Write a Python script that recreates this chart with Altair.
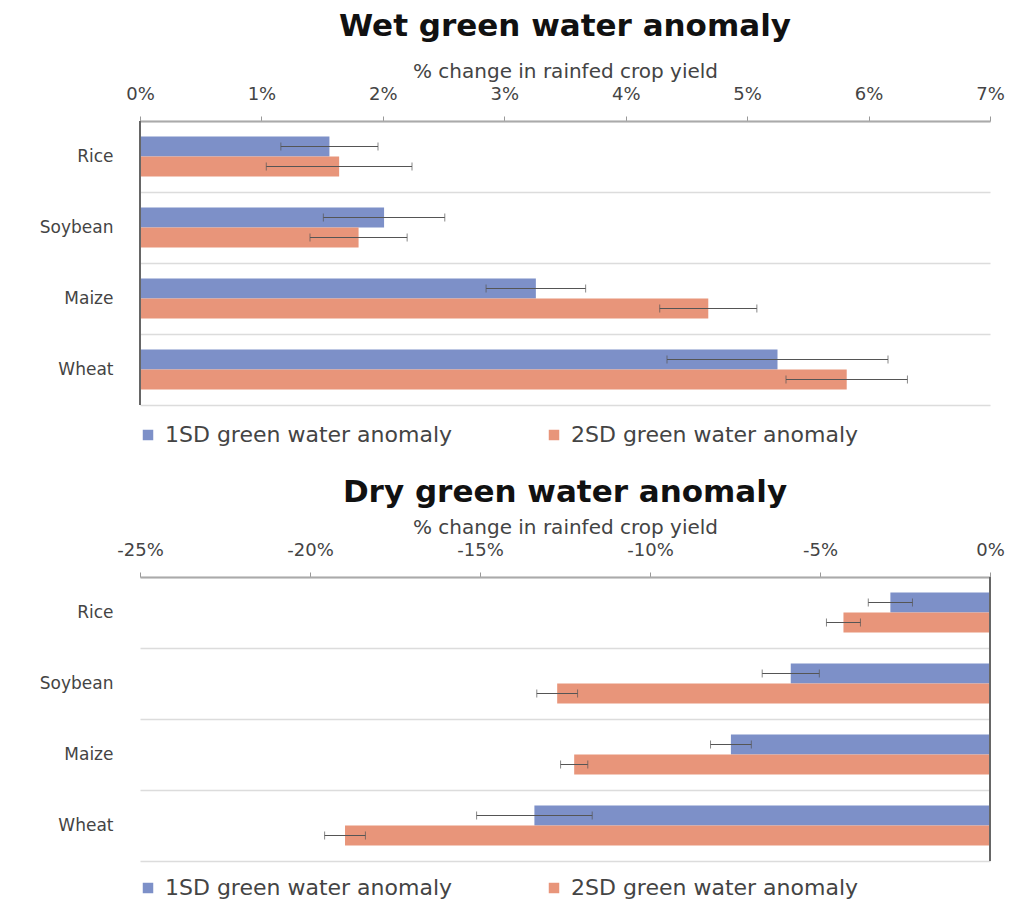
import altair as alt
import pandas as pd

categories = ["Rice", "Soybean", "Maize", "Wheat"]
series = ["1SD green water anomaly", "2SD green water anomaly"]
colors = ["#7d90c8", "#e8957a"]

wet_1sd = [1.56, 2.01, 3.26, 5.25]
wet_1sd_err = [0.40, 0.50, 0.41, 0.91]
wet_2sd = [1.64, 1.80, 4.68, 5.82]
wet_2sd_err = [0.60, 0.40, 0.40, 0.50]

dry_1sd = [-2.93, -5.86, -7.62, -13.40]
dry_1sd_err = [0.65, 0.84, 0.60, 1.70]
dry_2sd = [-4.31, -12.73, -12.23, -18.97]
dry_2sd_err = [0.50, 0.60, 0.40, 0.60]

wet_ticks = [0, 1, 2, 3, 4, 5, 6, 7]
dry_ticks = [-25, -20, -15, -10, -5, 0]

FONT = "DejaVu Sans"
AXIS_TITLE = "% change in rainfed crop yield"


def make_df(v1, e1, v2, e2):
    rows = []
    for c, a, ea, b, eb in zip(categories, v1, e1, v2, e2):
        rows.append({"category": c, "series": series[0], "value": a, "lo": a - ea, "hi": a + ea})
        rows.append({"category": c, "series": series[1], "value": b, "lo": b - eb, "hi": b + eb})
    return pd.DataFrame(rows)


def panel(title, df, domain, ticks, title_offset, legend_y):
    xaxis = alt.Axis(
        orient="top", values=ticks, labelExpr="datum.value + '%'",
        title=AXIS_TITLE, titleFontSize=20, titleFontWeight="normal", titleColor="#444",
        titlePadding=4, labelFontSize=18, labelColor="#444", labelPadding=13,
        tickSize=5, tickColor="#999", domainColor="#aaa", domainWidth=2,
        grid=False, labelFlush=False,
    )
    xscale = alt.Scale(domain=domain, nice=False, zero=False)

    def X(field):
        return alt.X(field, type="quantitative", scale=xscale, axis=xaxis)

    y = alt.Y(
        "category:N", sort=categories,
        scale=alt.Scale(paddingInner=0, paddingOuter=0),
        axis=alt.Axis(title=None, domain=False, ticks=False, labelPadding=27,
                      labelFontSize=17, labelColor="#444", grid=True, tickBand="extent",
                      gridColor="#dcdcdc", gridWidth=1.5, minExtent=132),
    )
    yoff = alt.YOffset("series:N", sort=series,
                       scale=alt.Scale(paddingInner=0, paddingOuter=0.775))

    base = alt.Chart(df)
    bars = base.mark_bar().encode(
        x=X("value"), y=y, yOffset=yoff,
        color=alt.Color(
            "series:N", sort=series,
            scale=alt.Scale(domain=series, range=colors),
            legend=alt.Legend(
                title=None, orient="none", direction="horizontal", columns=2,
                legendX=-3, legendY=legend_y, symbolType="square", symbolSize=110,
                symbolStrokeWidth=0, labelFontSize=22, labelColor="#444",
                labelOffset=6, columnPadding=90, labelLimit=0,
            ),
        ),
    )
    err = base.mark_rule(color="#555", strokeWidth=1).encode(
        x=X("lo"), x2="hi:Q", y=y, yOffset=yoff
    )
    cap_lo = base.mark_tick(color="#555", thickness=1, size=8).encode(
        x=X("lo"), y=y, yOffset=yoff
    )
    cap_hi = base.mark_tick(color="#555", thickness=1, size=8).encode(
        x=X("hi"), y=y, yOffset=yoff
    )
    zero = alt.Chart(pd.DataFrame({"z": [0]})).mark_rule(color="#666", strokeWidth=2).encode(
        x=X("z")
    )
    return alt.layer(bars, err, cap_lo, cap_hi, zero).properties(
        width=850, height=284,
        title=alt.TitleParams(title, fontSize=31, fontWeight="bold", color="#111",
                              anchor="middle", offset=title_offset, font=FONT),
    )


wet = panel("Wet green water anomaly", make_df(wet_1sd, wet_1sd_err, wet_2sd, wet_2sd_err),
            [0, 7], wet_ticks, 18, 303)
dry = panel("Dry green water anomaly", make_df(dry_1sd, dry_1sd_err, dry_2sd, dry_2sd_err),
            [-25, 0], dry_ticks, 8, 300)

chart = (
    alt.vconcat(wet, dry, spacing=31)
    .resolve_scale(color="independent")
    .resolve_legend(color="independent")
    .configure(font=FONT, padding={"left": 0, "top": 3, "right": 0, "bottom": 0})
    .configure_view(stroke=None)
)

chart.save("out.html", embed_options={"renderer": "svg", "actions": False})
